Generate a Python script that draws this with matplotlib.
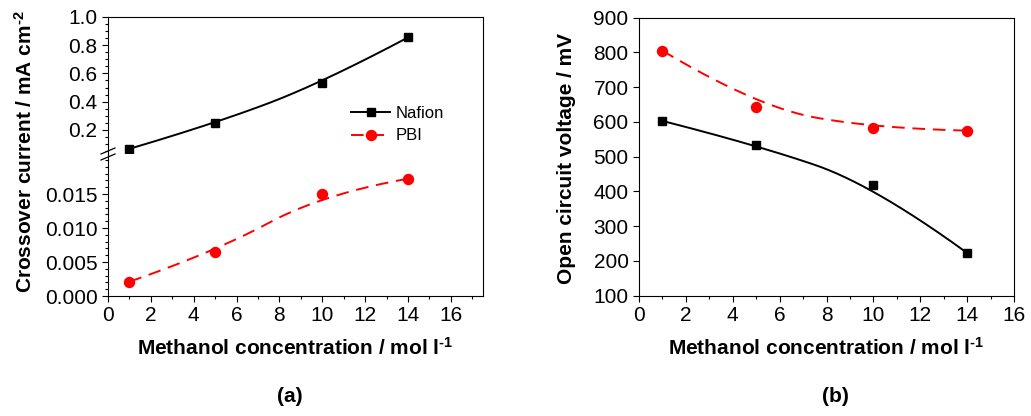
import numpy as np
import matplotlib
matplotlib.use("Agg")
import matplotlib.pyplot as plt
from matplotlib.lines import Line2D
from matplotlib.ticker import MultipleLocator, FixedLocator

plt.rcParams['font.family'] = ['Liberation Sans', 'DejaVu Sans']
# only the bold axis labels use mathtext (for the superscripts)
plt.rcParams['mathtext.fontset'] = 'custom'
plt.rcParams['mathtext.rm'] = 'Liberation Sans:bold'
plt.rcParams['mathtext.default'] = 'rm'

# methanol concentration (mol/l)
conc = [1, 5, 10, 14]

# crossover current (mA/cm2)
nafion_cross = [0.065, 0.245, 0.533, 0.855]
pbi_cross = [0.0021, 0.0065, 0.0150, 0.01725]

# open circuit voltage (mV)
nafion_ocv = [603, 534, 419, 223]
pbi_ocv = [805, 644, 582, 575]

W, H = 1031, 416
fig = plt.figure(figsize=(W / 100, H / 100), dpi=100)


def fr(x0, y0, x1, y1):
    # pixel box -> figure fraction rect
    return [x0 / W, 1 - y1 / H, (x1 - x0) / W, (y1 - y0) / H]


def bspline(x, y, n=80):
    # clamped quadratic B-spline using the points as control points
    P = np.column_stack([x, y]).astype(float)
    ends = [P[0]] + [(P[i] + P[i + 1]) / 2 for i in range(1, len(P) - 2)] + [P[-1]]
    t = np.linspace(0, 1, n)[:, None]
    segs = []
    for i in range(len(ends) - 1):
        a, c, b = ends[i], P[i + 1], ends[i + 1]
        segs.append((1 - t) ** 2 * a + 2 * t * (1 - t) * c + t ** 2 * b)
    pts = np.vstack(segs)
    return pts[:, 0], pts[:, 1]


def style(ax, xmax):
    ax.set_xlim(0, xmax)
    ax.tick_params(direction='out', length=4.5, width=0.8, labelsize=15,
                   top=False, right=False, pad=3)
    ax.tick_params(which='minor', direction='out', length=2.3, width=0.8,
                   top=False, right=False)
    for s in ax.spines.values():
        s.set_linewidth(0.8)


dash = (0, (6.5, 4))
red = '#ff0000'
lw = 1.4
sq = dict(marker='s', color='black', ms=6.4, linestyle='none')
dot = dict(marker='o', color=red, ms=7.2, linestyle='none')
lab = dict(fontsize=15, fontweight='bold', ha='center', va='center')

# ---- (a) crossover current, broken y axis ----
ax_top = fig.add_axes(fr(108, 17, 483, 154))
ax_bot = fig.add_axes(fr(108, 154, 483, 296))

xs, ys = bspline(conc, nafion_cross)
ax_top.plot(xs, ys, color='black', lw=lw)
ax_top.plot(conc, nafion_cross, **sq)
ax_top.set_ylim(1.0 - 137 / 141, 1.0)
ax_top.yaxis.set_major_locator(FixedLocator([0.2, 0.4, 0.6, 0.8, 1.0]))
ax_top.yaxis.set_minor_locator(MultipleLocator(0.05))
style(ax_top, 17.5)
ax_top.spines['bottom'].set_visible(False)
ax_top.tick_params(which='both', bottom=False, labelbottom=False)

xs, ys = bspline(conc, pbi_cross)
ax_bot.plot(xs, ys, color=red, lw=lw, linestyle=dash)
ax_bot.plot(conc, pbi_cross, **dot)
ax_bot.set_ylim(0, 142 / 6800)
ax_bot.yaxis.set_major_locator(FixedLocator([0, 0.005, 0.010, 0.015]))
ax_bot.yaxis.set_major_formatter(plt.FormatStrFormatter('%.3f'))
ax_bot.yaxis.set_minor_locator(MultipleLocator(0.001))
ax_bot.xaxis.set_major_locator(MultipleLocator(2))
ax_bot.xaxis.set_minor_locator(MultipleLocator(1))
style(ax_bot, 17.5)
ax_bot.spines['top'].set_visible(False)

# break marks on the left spine
for yb in (151, 157):
    fig.add_artist(Line2D([(108 - 7) / W, (108 + 7) / W],
                          [1 - (yb + 3) / H, 1 - (yb - 3) / H],
                          transform=fig.transFigure, color='black', lw=0.9))

handles = [Line2D([], [], color='black', lw=lw, marker='s', ms=6.4),
           Line2D([], [], color=red, lw=lw, linestyle=dash, marker='o', ms=7.2)]
fig.legend(handles, ['Nafion', 'PBI'], loc='upper left',
           bbox_to_anchor=(351 / W, 1 - 106 / H), frameon=False,
           fontsize=12, handlelength=2.35, handletextpad=0.3,
           borderpad=0, borderaxespad=0, labelspacing=0.45)

fig.text(25 / W, 1 - 152 / H, r'Crossover current / mA cm$^{\text{-2}}$', rotation=90, **lab)
fig.text(295 / W, 1 - 348 / H, r'Methanol concentration / mol l$^{\text{-1}}$', **lab)
fig.text(290 / W, 1 - 397 / H, '(a)', **lab)

# ---- (b) open circuit voltage ----
ax2 = fig.add_axes(fr(639, 17.7, 1014, 295.7))
xs, ys = bspline(conc, nafion_ocv)
ax2.plot(xs, ys, color='black', lw=lw)
ax2.plot(conc, nafion_ocv, **sq)
xs, ys = bspline(conc, pbi_ocv)
ax2.plot(xs, ys, color=red, lw=lw, linestyle=dash)
ax2.plot(conc, pbi_ocv, **dot)
ax2.set_ylim(100, 900)
ax2.yaxis.set_major_locator(MultipleLocator(100))
ax2.xaxis.set_major_locator(MultipleLocator(2))
ax2.xaxis.set_minor_locator(MultipleLocator(1))
style(ax2, 16)

fig.text(566 / W, 1 - 158 / H, 'Open circuit voltage / mV', rotation=90, **lab)
fig.text(826 / W, 1 - 348 / H, r'Methanol concentration / mol l$^{\text{-1}}$', **lab)
fig.text(835 / W, 1 - 397 / H, '(b)', **lab)

fig.savefig('out.png', dpi=100)
